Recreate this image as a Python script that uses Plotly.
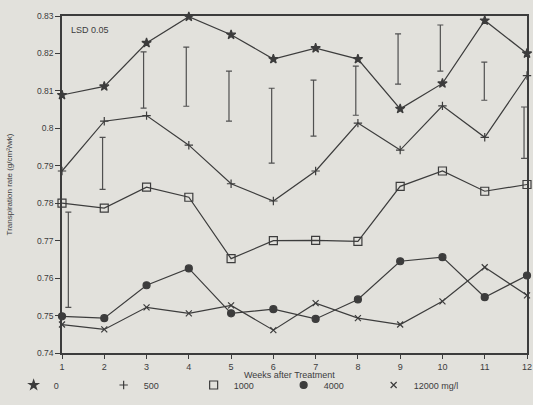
import plotly.graph_objects as go

weeks = [1, 2, 3, 4, 5, 6, 7, 8, 9, 10, 11, 12]
s0 = [0.8089, 0.8112, 0.8228, 0.8298, 0.8250, 0.8185, 0.8214, 0.8185, 0.8052, 0.8120, 0.8288, 0.8200]
s500 = [0.7886, 0.8019, 0.8034, 0.7955, 0.7852, 0.7806, 0.7886, 0.8014, 0.7942, 0.8060, 0.7976, 0.8141]
s1000 = [0.7800, 0.7787, 0.7843, 0.7816, 0.7652, 0.7700, 0.7701, 0.7698, 0.7845, 0.7886, 0.7832, 0.7850]
s4000 = [0.7498, 0.7493, 0.7581, 0.7626, 0.7506, 0.7517, 0.7491, 0.7543, 0.7645, 0.7656, 0.7549, 0.7607]
s12000 = [0.7476, 0.7463, 0.7522, 0.7506, 0.7527, 0.7461, 0.7533, 0.7493, 0.7476, 0.7538, 0.7629, 0.7554]

lsd_x = [1.15, 1.96, 2.93, 3.94, 4.95, 5.96, 6.95, 7.95, 8.95, 9.95, 10.99, 11.93]
lsd_top = [0.7776, 0.7976, 0.8204, 0.8217, 0.8153, 0.8107, 0.8129, 0.8166, 0.8252, 0.8276, 0.8177, 0.8057]
lsd_bot = [0.7522, 0.7837, 0.8054, 0.8059, 0.8019, 0.7907, 0.7979, 0.8035, 0.8118, 0.8153, 0.8075, 0.7920]

names = ["0", "500", "1000", "4000", "12000 mg/l"]
series = [s0, s500, s1000, s4000, s12000]
symbols = ["star", "cross-thin", "square-open", "circle", "x-thin"]
sizes = [7, 6, 8, 7, 6]

yticks = [0.74, 0.75, 0.76, 0.77, 0.78, 0.79, 0.80, 0.81, 0.82, 0.83]
ytext = ["0.74", "0.75", "0.76", "0.77", "0.78", "0.79", "0.8", "0.81", "0.82", "0.83"]

ink = "#3c3c3c"
bg = "#e2e1dc"
fig = go.Figure()

for nm, ys, sym, sz in zip(names, series, symbols, sizes):
    fig.add_trace(go.Scatter(
        x=weeks, y=ys, mode="lines+markers", showlegend=False, cliponaxis=False,
        line=dict(color=ink, width=1.2),
        marker=dict(symbol=sym, size=sz, color=ink, line=dict(color=ink, width=1.2)),
    ))

for nm, sym, sz in zip(names, symbols, sizes):
    fig.add_trace(go.Scatter(
        x=[None], y=[None], mode="markers", name=nm,
        marker=dict(symbol=sym, size=sz, color=ink, line=dict(color=ink, width=1.2)),
    ))

mid = [(a + b) / 2 for a, b in zip(lsd_top, lsd_bot)]
half = [(a - b) / 2 for a, b in zip(lsd_top, lsd_bot)]
fig.add_trace(go.Scatter(
    x=lsd_x, y=mid, mode="markers", showlegend=False, cliponaxis=False,
    marker=dict(size=1, color="rgba(0,0,0,0)"),
    error_y=dict(type="data", array=half, symmetric=True, color="#505050", thickness=1.2, width=3),
))

fig.add_annotation(x=0.016, y=0.958, xref="paper", yref="paper", text="LSD 0.05",
                   showarrow=False, xanchor="left", yanchor="middle",
                   font=dict(size=9, color=ink))
fig.add_annotation(x=0.49, y=-0.065, xref="paper", yref="paper", text="Weeks after Treatment",
                   showarrow=False, xanchor="center", yanchor="middle",
                   font=dict(size=9, color=ink))
fig.add_annotation(x=-0.112, y=0.5, xref="paper", yref="paper",
                   text="Transpiration rate (g/cm²/wk)", textangle=-90,
                   showarrow=False, xanchor="center", yanchor="middle",
                   font=dict(size=8, color=ink))

fig.update_layout(
    width=533, height=405,
    margin=dict(l=62, r=6, t=16, b=52, autoexpand=False),
    paper_bgcolor=bg, plot_bgcolor=bg,
    font=dict(family="Liberation Sans, Arial, sans-serif", size=9, color=ink),
    legend=dict(orientation="h", x=-0.104, xanchor="left", y=-0.052, yanchor="top",
                entrywidth=45, entrywidthmode="pixels", tracegroupgap=0,
                font=dict(size=9, color=ink), bgcolor="rgba(0,0,0,0)", itemwidth=30),
    xaxis=dict(range=[1, 12], tickvals=weeks, ticks="outside", ticklen=4, tickcolor=ink,
               showline=True, linecolor=ink, linewidth=1.5, mirror=True, showgrid=False,
               zeroline=False, automargin=False, ticklabeloverflow="allow",
               tickfont=dict(size=9, color=ink)),
    yaxis=dict(range=[0.74, 0.83], tickvals=yticks, ticktext=ytext, ticks="outside",
               ticklen=5, tickcolor=ink, showline=True, linecolor=ink, linewidth=1.5,
               mirror=True, showgrid=False, zeroline=False, automargin=False,
               tickfont=dict(size=8.5, color=ink)),
)

fig.write_html("out.html", config={"displayModeBar": False},
               post_script="document.body.style.margin='0';document.body.style.background='#e2e1dc';")
